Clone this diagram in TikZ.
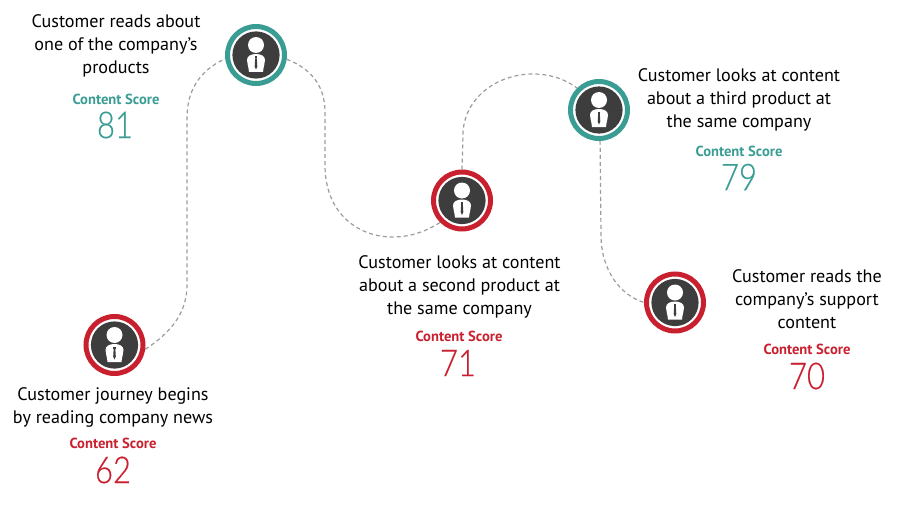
\documentclass[tikz,border=0pt]{standalone}
\usepackage{fontspec}
\setmainfont{PT Sans}
\newfontfamily\numfont[FakeStretch=0.84,FakeBold=0.35]{Lato Light}
\usepackage{tikz}
\usetikzlibrary{positioning}
\definecolor{scorered}{HTML}{C9202F}
\definecolor{scoreteal}{HTML}{3A9D94}
\definecolor{icondark}{HTML}{3D3D3D}
\definecolor{trailgrey}{HTML}{9C9C9C}
\tikzset{
	trail/.style={draw=trailgrey, dashed, dash pattern=on 4pt off 3pt, line width=1.2pt},
	ring/.style={circle, draw=#1, line width=5pt, fill=white, minimum size=57pt, inner sep=0pt},
	caption/.style={align=center, font=\fontsize{18.1}{23}\selectfont, text=black, inner sep=0pt},
	scorehead/.style={font=\bfseries\fontsize{14.6}{16}\selectfont, text=#1, inner sep=0pt},
	scorenum/.style={font=\numfont\fontsize{37}{37}\selectfont, text=#1, inner sep=0pt},
	pics/customer/.style={code={
		\fill[icondark] (0,0) circle (23.6);
		\fill[white] (0,-10) circle (8);
		\fill[white] (-7,17) .. controls (-7.5,11) and (-9,9) .. (-9,5)
			.. controls (-9,1) and (-5,-1) .. (0,-1)
			.. controls (5,-1) and (9,1) .. (9,5)
			.. controls (9,9) and (7.5,11) .. (7,17) -- cycle;
		\fill[icondark] (-1.2,1.5) rectangle (1.2,3.5);
		\fill[icondark] (-0.8,3.5) -- (0.8,3.5) -- (1.3,11.5) -- (0,14.5) -- (-1.3,11.5) -- cycle;
	}}
}
\begin{document}
\begin{tikzpicture}[x=1pt,y=-1pt]
	\useasboundingbox (0,0) rectangle (900,511);
	% Customer icons along the journey
	\node[ring=scorered] (news) at (114.5,345) {};
	\node[ring=scoreteal] (first) at (256,55) {};
	\node[ring=scorered] (second) at (462,200.5) {};
	\node[ring=scoreteal] (third) at (599,110) {};
	\node[ring=scorered] (support) at (675,302.5) {};
	\pic at (news) {customer};
	\pic at (first) {customer};
	\pic at (second) {customer};
	\pic at (third) {customer};
	\pic at (support) {customer};
	% Dashed trail between the icons
	\draw[trail] (news.-8) .. controls (172,332) and (187,312) .. (187,285)
		-- (187,118) .. controls (187,85) and (205,68) .. (first.187);
	\draw[trail] (first.-8) .. controls (310,68) and (325,85) .. (325,112)
		-- (325,165) .. controls (325,215) and (360,237) .. (392,237)
		.. controls (410,237) and (425,232) .. (second.225);
	\draw[trail] (second.90) -- (463,135) .. controls (463,100) and (495,74) .. (533,74)
		.. controls (550,74) and (565,79) .. (third.135);
	\draw[trail] (third.-88) -- (601,235) .. controls (601,270) and (620,295) .. (support.180);
	% Caption and score for each step
	\node[caption] (newstext) at (113,407) {Customer journey begins\\by reading company news};
	\node[scorehead=scorered] (newshead) at (113,443) {Content Score};
	\node[scorenum=scorered] (newsnum) at (113,470) {62};
	\node[caption] (firsttext) at (116,45.5) {Customer reads about\\one of the company’s\\products};
	\node[scorehead=scoreteal] (firsthead) at (116,99) {Content Score};
	\node[scorenum=scoreteal] (firstnum) at (115,125) {81};
	\node[caption] (secondtext) at (459.5,286.5) {Customer looks at content\\about a second product at\\the same company};
	\node[scorehead=scorered] (secondhead) at (459,336) {Content Score};
	\node[scorenum=scorered] (secondnum) at (458,363) {71};
	\node[caption] (thirdtext) at (739,100) {Customer looks at content\\about a third product at\\the same company};
	\node[scorehead=scoreteal] (thirdhead) at (739,151) {Content Score};
	\node[scorenum=scoreteal] (thirdnum) at (739,177) {79};
	\node[caption] (supporttext) at (807,299.5) {Customer reads the\\company’s support\\content};
	\node[scorehead=scorered] (supporthead) at (807,349) {Content Score};
	\node[scorenum=scorered] (supportnum) at (807,376) {70};
\end{tikzpicture}
\end{document}
